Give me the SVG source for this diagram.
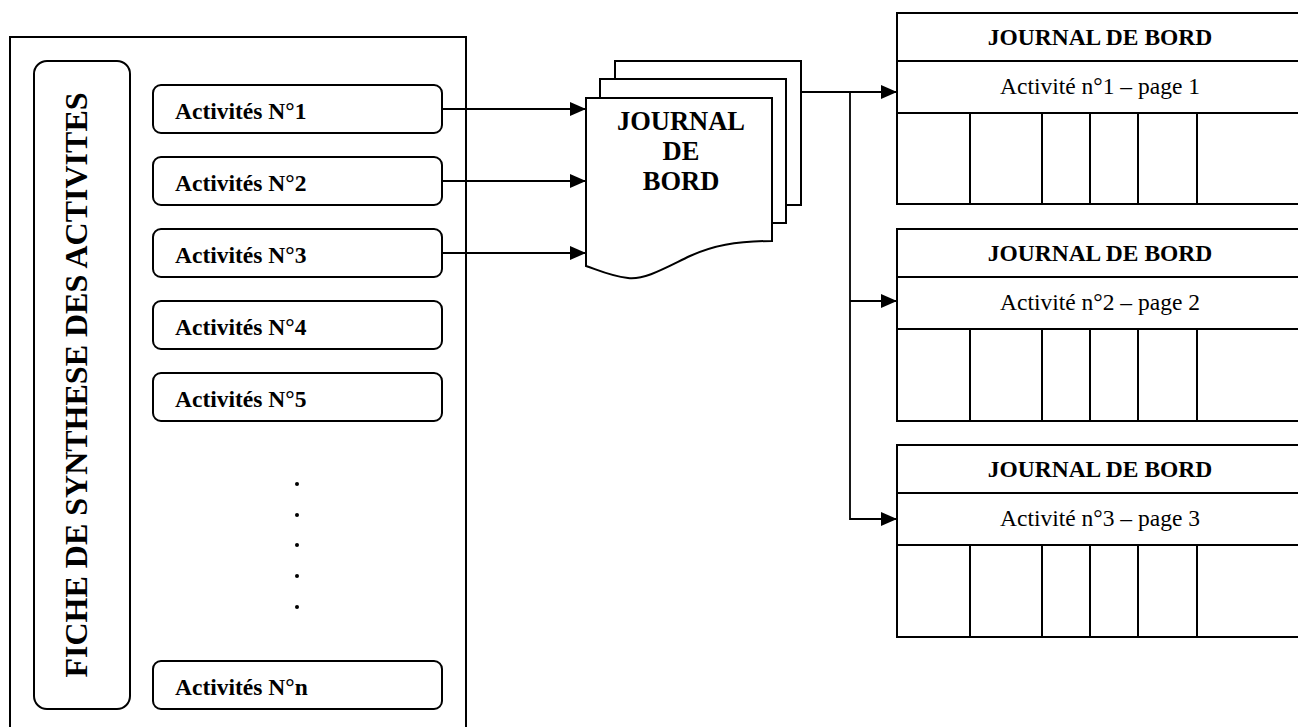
<svg xmlns="http://www.w3.org/2000/svg" width="1298" height="727" viewBox="0 0 1298 727">
<style>
.ln{fill:none;stroke:#000;stroke-width:2}
.bx{fill:#fff;stroke:#000;stroke-width:2}
.act{font-family:"Liberation Serif","Times New Roman",serif;font-weight:bold;font-size:23.5px;fill:#000}
.tt{font-family:"Liberation Serif","Times New Roman",serif;font-weight:bold;font-size:23.5px;fill:#000;text-anchor:middle}
.st{font-family:"Liberation Serif","Times New Roman",serif;font-size:23.5px;fill:#000;text-anchor:middle}
.cn{fill:none;stroke:#000;stroke-width:1.8}
</style>
<defs>
<marker id="ah" markerWidth="16" markerHeight="14" refX="16" refY="7" orient="auto" markerUnits="userSpaceOnUse">
<path d="M0,0 L16,7 L0,14 Z" fill="#000"/>
</marker>
</defs>
<g id="fiche">
<path class="ln" d="M10,728 V37 H466 V728"/>
<rect class="bx" x="34" y="61" width="96" height="648" rx="13"/>
<text class="tt" style="font-size:32px" transform="translate(87,385) rotate(-90)">FICHE DE SYNTHESE DES ACTIVITES</text>
</g>
<g id="act1"><rect class="bx" x="153" y="85" width="289" height="48" rx="8"/><text class="act" x="175" y="119">Activités N°1</text></g>
<g id="act2"><rect class="bx" x="153" y="157" width="289" height="48" rx="8"/><text class="act" x="175" y="191">Activités N°2</text></g>
<g id="act3"><rect class="bx" x="153" y="229" width="289" height="48" rx="8"/><text class="act" x="175" y="263">Activités N°3</text></g>
<g id="act4"><rect class="bx" x="153" y="301" width="289" height="48" rx="8"/><text class="act" x="175" y="335">Activités N°4</text></g>
<g id="act5"><rect class="bx" x="153" y="373" width="289" height="48" rx="8"/><text class="act" x="175" y="407">Activités N°5</text></g>
<g id="dots" fill="#000">
<circle cx="297" cy="484" r="2"/><circle cx="297" cy="515" r="2"/><circle cx="297" cy="545" r="2"/><circle cx="297" cy="576" r="2"/><circle cx="297" cy="607" r="2"/>
</g>
<g id="actn"><rect class="bx" x="153" y="661" width="289" height="48" rx="8"/><text class="act" x="175" y="695">Activités N°n</text></g>
<g id="journal-doc">
<path class="bx" d="M615,79 V61 H801 V205 H786"/>
<path class="bx" d="M600,98 V79 H786 V223 H772"/>
<path class="bx" d="M586,98 H772 V241 C735,241 712,246 690,256 C665,268 645,280 628,278 C610,276 598,270 586,266 Z"/>
<text class="tt" style="font-size:26.5px" x="681" y="130">JOURNAL</text>
<text class="tt" style="font-size:26.5px" x="681" y="160">DE</text>
<text class="tt" style="font-size:26.5px" x="681" y="190">BORD</text>
</g>
<g id="page1">
<path class="ln" d="M1300,13 H897 V204 H1300 M897,61 H1300 M897,113 H1300 M970,113 V204 M1042,113 V204 M1090,113 V204 M1138,113 V204 M1197,113 V204"/>
<text class="tt" x="1100" y="45">JOURNAL DE BORD</text>
<text class="st" x="1100" y="94">Activité n°1 – page 1</text>
</g>
<g id="page2">
<path class="ln" d="M1300,229 H897 V421 H1300 M897,277 H1300 M897,329 H1300 M970,329 V421 M1042,329 V421 M1090,329 V421 M1138,329 V421 M1197,329 V421"/>
<text class="tt" x="1100" y="261">JOURNAL DE BORD</text>
<text class="st" x="1100" y="310">Activité n°2 – page 2</text>
</g>
<g id="page3">
<path class="ln" d="M1300,445 H897 V637 H1300 M897,493 H1300 M897,545 H1300 M970,545 V637 M1042,545 V637 M1090,545 V637 M1138,545 V637 M1197,545 V637"/>
<text class="tt" x="1100" y="477">JOURNAL DE BORD</text>
<text class="st" x="1100" y="526">Activité n°3 – page 3</text>
</g>
<g id="connectors">
<path class="cn" d="M442,109 H586" marker-end="url(#ah)"/>
<path class="cn" d="M442,181 H586" marker-end="url(#ah)"/>
<path class="cn" d="M442,253 H586" marker-end="url(#ah)"/>
<path class="cn" d="M801,92 H897" marker-end="url(#ah)"/>
<path class="cn" d="M850,92 V519 H897" marker-end="url(#ah)"/>
<path class="cn" d="M850,301 H897" marker-end="url(#ah)"/>
</g>
</svg>
